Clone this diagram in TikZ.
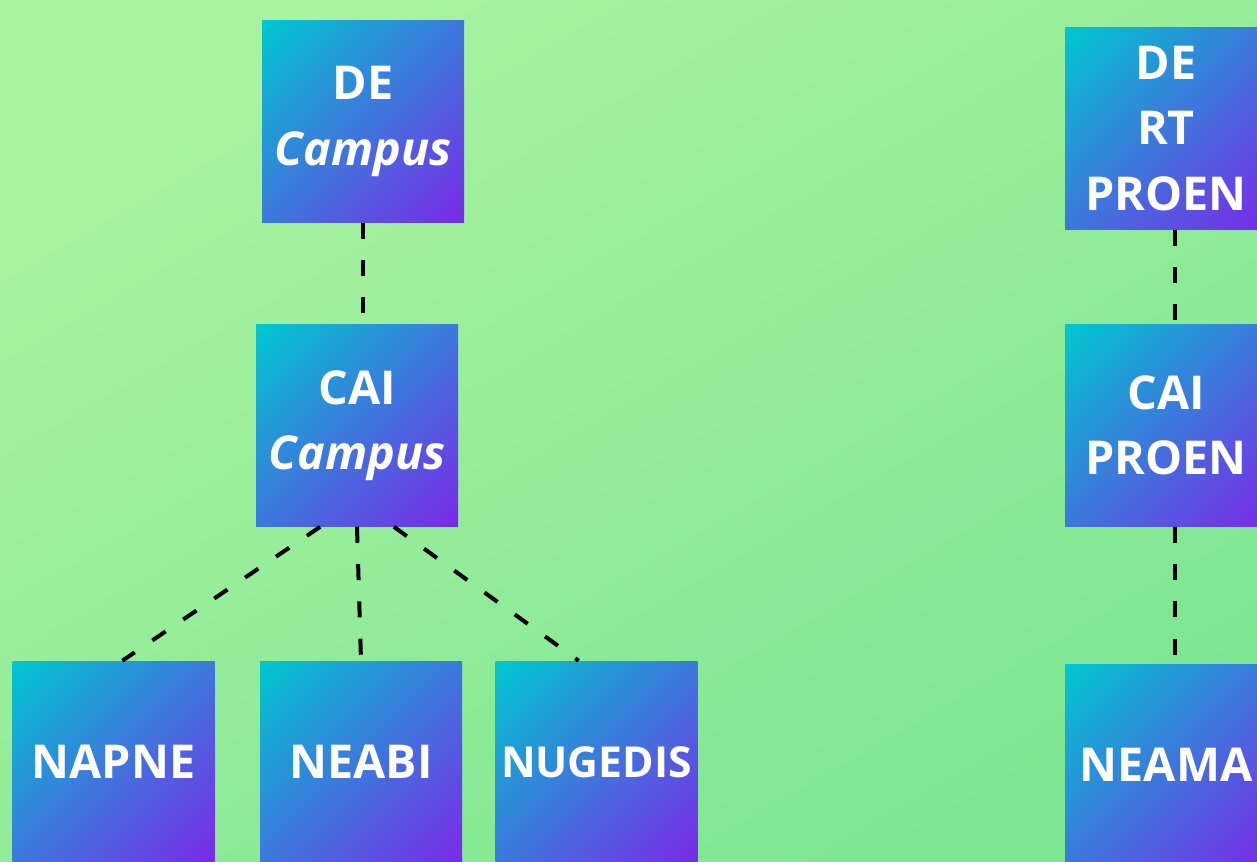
\documentclass[tikz,border=0pt]{standalone}
\usepackage{fontspec}
\setmainfont{Open Sans}
\usepackage{tikz}

\definecolor{bgtop}{HTML}{A9F2A0}
\definecolor{bgbot}{HTML}{7EE692}
\definecolor{boxcyan}{HTML}{00C6D0}
\definecolor{boxpurple}{HTML}{7A2AE8}

% gradient over the whole diagonal of a box
\pgfdeclareverticalshading{boxgrad}{100bp}{color(0bp)=(boxpurple); color(15bp)=(boxpurple);
  color(85bp)=(boxcyan); color(100bp)=(boxcyan)}

\tikzset{
  unit/.style={shading=boxgrad, shading angle=45,
    minimum width=151.5pt, minimum height=151.5pt,
    inner sep=0pt, text=white, align=center,
    font=\bfseries\fontsize{35}{49}\selectfont},
  link/.style={line width=3pt, dash pattern=on 12pt off 16pt}
}

\begin{document}
\begin{tikzpicture}[x=0.75pt,y=0.75pt,yscale=-1,xscale=1]
\useasboundingbox (0,0) rectangle (1257,861);

%Background
\shade[shading=axis, top color=bgtop, bottom color=bgbot, shading angle=30] (0,0) rectangle (1257,861);

% Campus side
\node [unit] (dec) at (363,121.5) {DE\\\textit{Campus}};
\node [unit] (caic) at (357,425.5) {CAI\\\textit{Campus}};
\node [unit] (napne) at (113.5,762) {NAPNE};
\node [unit] (neabi) at (361,762) {NEABI};
\node [unit, font=\bfseries\fontsize{32}{40}\selectfont] (nugedis) at (596.5,762) {NUGEDIS};

% PROEN side
\node [unit] (dertp) at (1166,128.5) {DE\\RT\\PROEN};
\node [unit] (caip) at (1166,425.5) {CAI\\PROEN};
\node [unit] (neama) at (1166,765) {NEAMA};

% Links
\draw [link] (dec.south) -- (dec.south |- caic.north);
\draw [link] (caic.250) -- (napne.85);
\draw [link] (caic.south) -- (neabi.north);
\draw [link] (caic.290) -- (nugedis.100);
\draw [link] (dertp.275) -- (caip.85);
\draw [link] (caip.275) -- (neama.85);

\end{tikzpicture}
\end{document}
